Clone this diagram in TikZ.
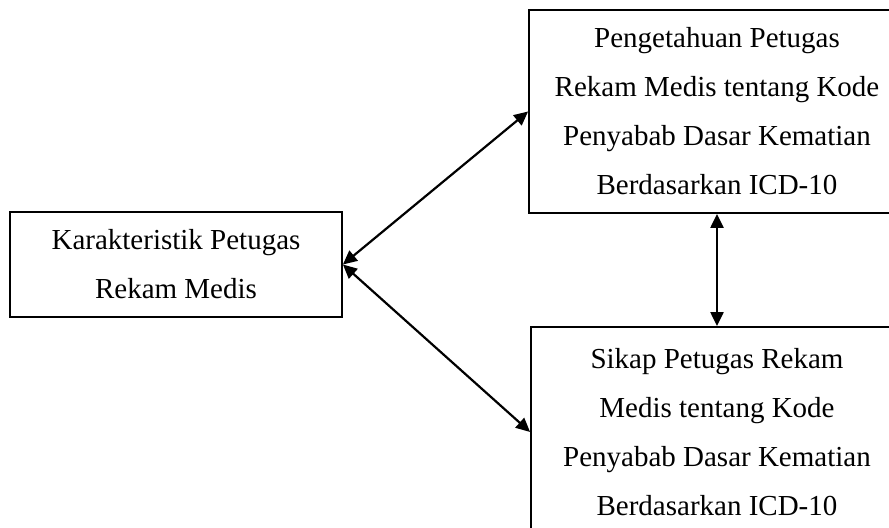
\documentclass[tikz,border=0pt]{standalone}
\usepackage{fontspec}
\setmainfont{Liberation Serif}
\usetikzlibrary{arrows.meta}
\begin{document}
\begin{tikzpicture}[
        x=0.5pt, y=-0.5pt,
        box/.style={rectangle, draw=black, line width=0.9pt, align=center, inner sep=0pt,
            font=\fontsize{14.5}{24.5}\selectfont},
        arrow/.style={line width=1.1pt, {Triangle[length=7pt, width=6.5pt]}-{Triangle[length=7pt, width=6.5pt]}}
    ]
        \useasboundingbox (0,0) rectangle (889,528);
        \node (karakteristik) [box, minimum width=166pt, minimum height=52.5pt] at (176,264.5) {Karakteristik Petugas\\Rekam Medis};
        \node (pengetahuan) [box, minimum width=188pt, minimum height=101.5pt] at (717,111.5) {Pengetahuan Petugas\\Rekam Medis tentang Kode\\Penyabab Dasar Kematian\\Berdasarkan ICD-10};
        \node (sikap) [box, minimum width=186pt, minimum height=105pt] at (717,432) {Sikap Petugas Rekam\\Medis tentang Kode\\Penyabab Dasar Kematian\\Berdasarkan ICD-10};
        
        \draw[arrow] (karakteristik.east) -- (pengetahuan.west);
        \draw[arrow] (karakteristik.east) -- (sikap.west);
        \draw[arrow] (pengetahuan.south) -- (sikap.north);
    \end{tikzpicture}
\end{document}
